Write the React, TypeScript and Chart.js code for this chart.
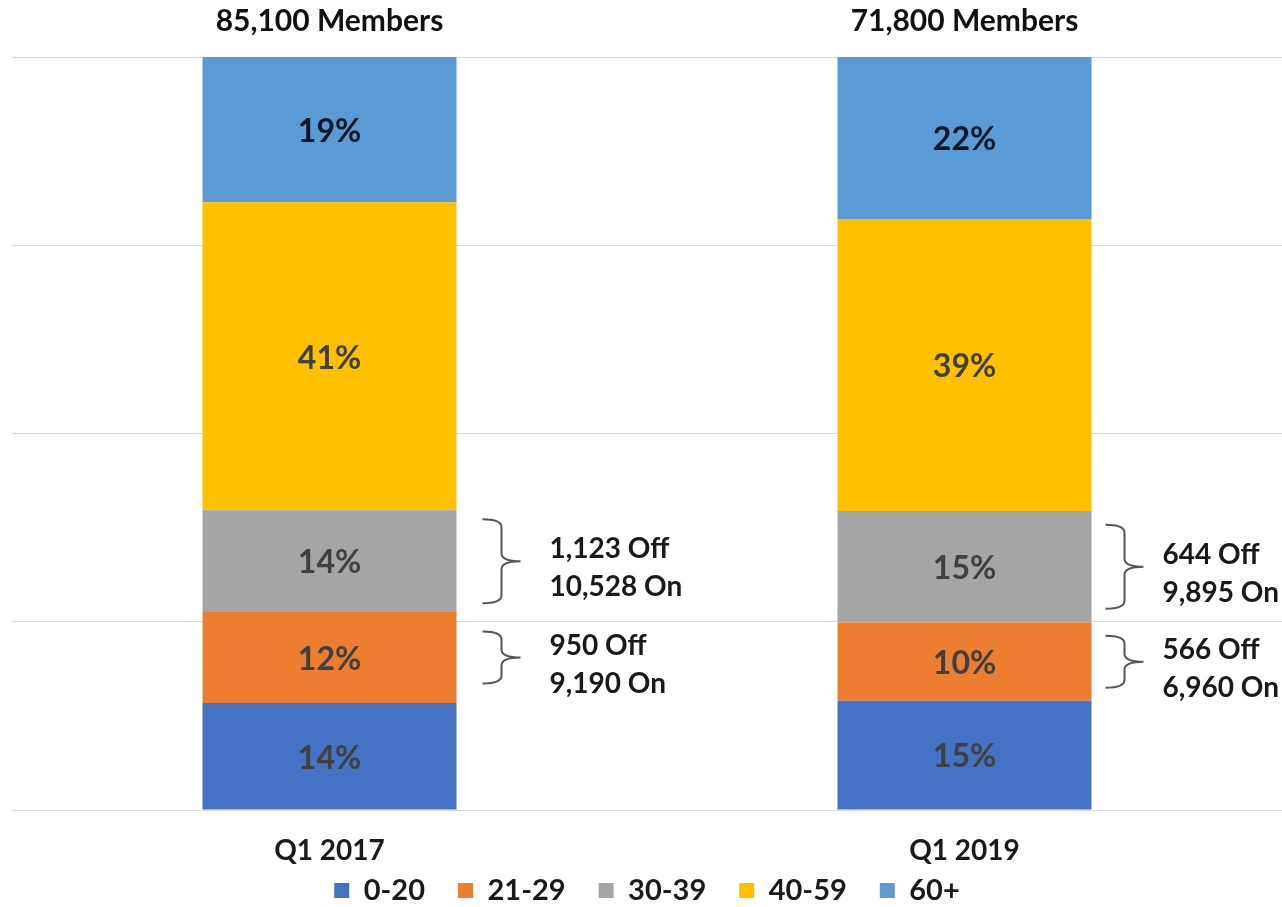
import React, { useEffect, useRef } from 'react';
import { Chart, registerables } from 'chart.js';

Chart.register(...registerables);

// ---- data ----
const categories = ['Q1 2017', 'Q1 2019'];
const memberTotals = ['85,100 Members', '71,800 Members'];
const seriesNames = ['0-20', '21-29', '30-39', '40-59', '60+'];
const share0to20 = [14.2, 14.5];
const share21to29 = [12.1, 10.4];
const share30to39 = [13.5, 14.8];
const share40to59 = [40.9, 38.8];
const share60plus = [19.3, 21.5];
const yTicks = [0, 25, 50, 75, 100];
const offOn30to39 = [
  ['1,123 Off', '10,528 On'],
  ['644 Off', '9,895 On'],
];
const offOn21to29 = [
  ['950 Off', '9,190 On'],
  ['566 Off', '6,960 On'],
];

// ---- styles ----
const seriesColors = ['#4472C4', '#ED7D31', '#A5A5A5', '#FFC000', '#5B9BD5'];
const FONT = 'Lato, "Open Sans", sans-serif';
const braceGap = [26, 14];
const textGap = [93, 71];

const labelPlugin = {
  id: 'labelPlugin',
  afterLayout(chart: any) {
    const xs = chart.scales.x;
    if (xs) xs.bottom = xs.top + 64;
  },
  afterDatasetsDraw(chart: any) {
    const ctx = chart.ctx;
    ctx.save();
    // percentage labels
    ctx.textAlign = 'center';
    ctx.textBaseline = 'middle';
    ctx.font = `bold 32px ${FONT}`;
    chart.data.datasets.forEach((ds: any, di: number) => {
      const meta = chart.getDatasetMeta(di);
      meta.data.forEach((bar: any, i: number) => {
        const p = bar.getProps(['x', 'y', 'base'], true);
        ctx.fillStyle = di === 4 ? '#0f1726' : '#404040';
        ctx.fillText(Math.round(ds.data[i]) + '%', p.x, (p.y + p.base) / 2 + 2);
      });
    });
    // member totals
    const xs = chart.scales.x;
    ctx.fillStyle = '#111111';
    ctx.font = `bold 30px ${FONT}`;
    categories.forEach((_c, i) => {
      ctx.fillText(memberTotals[i], xs.getPixelForValue(i), 21);
    });
    // braces + annotations
    const groups = [
      { di: 2, lines: offOn30to39, half: 42 },
      { di: 1, lines: offOn21to29, half: 26 },
    ];
    groups.forEach((g) => {
      const meta = chart.getDatasetMeta(g.di);
      meta.data.forEach((bar: any, i: number) => {
        const p = bar.getProps(['x', 'y', 'base', 'width'], true);
        const right = p.x + p.width / 2;
        const mid = (p.y + p.base) / 2;
        const top = mid - g.half;
        const bottom = mid + g.half;
        const x0 = right + braceGap[i];
        const x1 = x0 + 19;
        const tip = x0 + 38;
        const r = 8;
        ctx.strokeStyle = '#555555';
        ctx.lineWidth = 2;
        ctx.beginPath();
        ctx.moveTo(x0, top);
        ctx.quadraticCurveTo(x1, top, x1, top + r);
        ctx.lineTo(x1, mid - r);
        ctx.quadraticCurveTo(x1, mid, tip, mid);
        ctx.moveTo(tip, mid);
        ctx.quadraticCurveTo(x1, mid, x1, mid + r);
        ctx.lineTo(x1, bottom - r);
        ctx.quadraticCurveTo(x1, bottom, x0, bottom);
        ctx.stroke();
        ctx.fillStyle = '#1a1a1a';
        ctx.font = `bold 28px ${FONT}`;
        ctx.textAlign = 'left';
        ctx.textBaseline = 'middle';
        const tx = right + textGap[i];
        ctx.fillText(g.lines[i][0], tx, mid - 12);
        ctx.fillText(g.lines[i][1], tx, mid + 26);
      });
    });
    ctx.restore();
  },
};

export default function App() {
  const canvasRef = useRef<HTMLCanvasElement | null>(null);

  useEffect(() => {
    if (!canvasRef.current) return;
    const seriesData = [share0to20, share21to29, share30to39, share40to59, share60plus];
    const chart = new Chart(canvasRef.current, {
      type: 'bar',
      data: {
        labels: categories,
        datasets: seriesNames.map((name, k) => ({
          label: name,
          data: seriesData[k],
          backgroundColor: seriesColors[k],
          borderWidth: 0,
          barPercentage: 0.4,
          categoryPercentage: 1.0,
        })),
      },
      options: {
        animation: false,
        responsive: true,
        maintainAspectRatio: false,
        layout: { padding: { top: 57, left: 12, right: 0, bottom: 0 } },
        plugins: {
          tooltip: { enabled: false },
          legend: {
            position: 'bottom',
            maxHeight: 64,
            labels: {
              boxWidth: 15,
              boxHeight: 15,
              padding: 33,
              color: '#1a1a1a',
              font: { family: FONT, size: 29, weight: 'bold' },
            },
          },
        },
        scales: {
          x: {
            stacked: true,
            grid: { display: false, drawTicks: false },
            border: { display: false },
            ticks: {
              padding: 24,
              color: '#1a1a1a',
              font: { family: FONT, size: 28, weight: 'bold' },
            },
            afterFit: (s: any) => {
              s.height = 33;
            },
          },
          y: {
            stacked: true,
            min: yTicks[0],
            max: yTicks[yTicks.length - 1],
            afterBuildTicks: (s: any) => {
              s.ticks = yTicks.map((v) => ({ value: v }));
            },
            ticks: { display: false },
            grid: { color: '#d9d9d9', drawTicks: false, lineWidth: 1 },
            border: { display: false },
          },
        },
      },
      plugins: [labelPlugin],
    } as any);
    return () => chart.destroy();
  }, []);

  return (
    <div style={{ position: 'absolute', left: 0, top: 0, width: 1282, height: 907, background: '#ffffff' }}>
      <canvas ref={canvasRef} />
    </div>
  );
}
